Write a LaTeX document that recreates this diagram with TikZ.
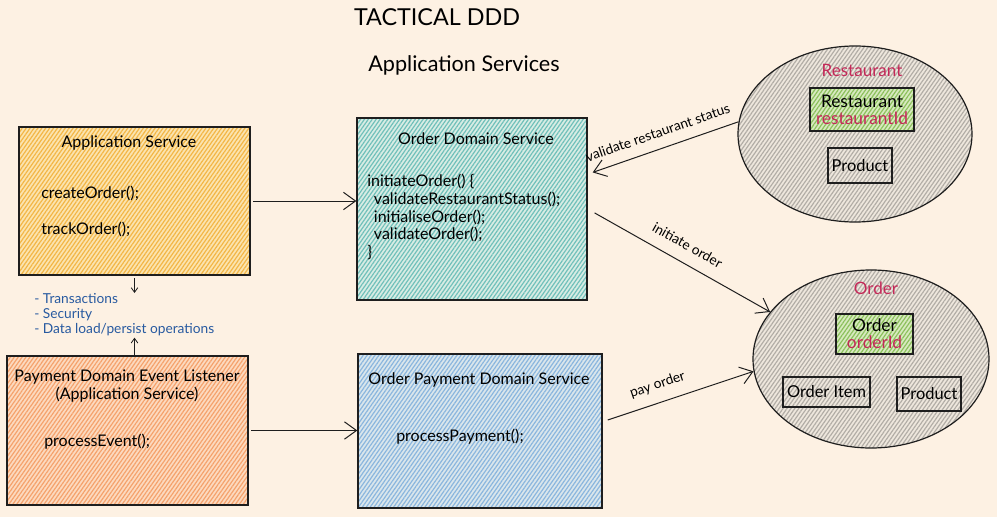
\documentclass[tikz,border=0pt]{standalone}
\usepackage{fontspec}
\setmainfont{Lato}
\usepackage{xcolor}
\usepackage{tikz}
\usetikzlibrary{calc,arrows.meta,positioning,shapes.geometric,patterns.meta}
\definecolor{ddbg}{RGB}{253,241,227}
\definecolor{ddink}{RGB}{30,30,30}
\definecolor{ddappline}{RGB}{243,182,70}
\definecolor{ddappfill}{RGB}{251,228,176}
\definecolor{ddtealline}{RGB}{112,192,186}
\definecolor{ddtealfill}{RGB}{216,236,228}
\definecolor{ddorgline}{RGB}{245,162,108}
\definecolor{ddorgfill}{RGB}{252,218,192}
\definecolor{ddblueline}{RGB}{138,182,222}
\definecolor{ddbluefill}{RGB}{218,230,236}
\definecolor{ddgreyline}{RGB}{178,173,166}
\definecolor{ddgreyfill}{RGB}{238,231,221}
\definecolor{ddgreenline}{RGB}{140,192,92}
\definecolor{ddgreenfill}{RGB}{216,234,192}
\definecolor{ddred}{RGB}{196,40,88}
\definecolor{ddblue}{RGB}{40,90,160}
\tikzset{
  hatch/.style 2 args={preaction={fill=#2},pattern={Lines[angle=55,distance=2.4pt,line width=0.9pt]},pattern color=#1},
  svcbox/.style={draw=ddink,line width=1pt,inner sep=0pt},
  bcbox/.style={ellipse,draw=ddink,line width=0.9pt,inner sep=0pt,hatch={ddgreyline}{ddgreyfill}},
  idbox/.style={draw=ddink,line width=1pt,inner sep=0pt,align=center,hatch={ddgreenline}{ddgreenfill},font=\fontsize{13}{12.75}\selectfont},
  partbox/.style={draw=ddink,line width=0.8pt,inner sep=0pt,hatch={ddgreyline}{ddgreyfill},font=\fontsize{12.3}{14}\selectfont},
  conn/.style={draw=ddink,line width=0.75pt,-{Straight Barb[length=9pt,width=13pt]}},
  tick/.style={draw=ddink,line width=0.6pt,-{Straight Barb[length=3.5pt,width=5pt]}},
  flow/.style={font=\fontsize{10.3}{12}\selectfont,inner sep=1pt}
}

\begin{document}
\begin{tikzpicture}[x=0.75pt,y=-0.75pt,font=\fontsize{12}{13.3}\selectfont,inner sep=0pt]
    \fill[ddbg] (0,0) rectangle (997,517);
    \useasboundingbox (0,0) rectangle (997,517);
    % headings
    \node[font=\fontsize{17.5}{20}\selectfont] (title) at (437,17) {TACTICAL DDD};
    \node[font=\fontsize{16.2}{19}\selectfont] (subtitle) at (464,65) {Application Services};
    % services
    \node[svcbox,hatch={ddappline}{ddappfill},minimum width=173.25pt,minimum height=111pt] (app) at (134.5,201) {};
    \node[svcbox,hatch={ddtealline}{ddtealfill},minimum width=172.5pt,minimum height=136.5pt] (ods) at (472,209) {};
    \node[svcbox,hatch={ddorgline}{ddorgfill},minimum width=180.75pt,minimum height=111.75pt] (pdel) at (127.5,430.5) {};
    \node[svcbox,hatch={ddblueline}{ddbluefill},minimum width=183pt,minimum height=115.5pt] (opds) at (480,431) {};
    \node (appT) at (129,143) {Application Service};
    \node[anchor=west] (appC) at (41,193) {createOrder();};
    \node[anchor=west] (appK) at (41,229) {trackOrder();};
    \node (odsT) at (476,139) {Order Domain Service};
    \node[align=left,anchor=north west] (odsC) at (367,174)
       {initiateOrder() \{\\\hspace*{5pt}validateRestaurantStatus();\\\hspace*{5pt}initialiseOrder();\\\hspace*{5pt}validateOrder();\\\}};
    \node[align=center] (pdelT) at (127,386) {Payment Domain Event Listener\\(Application Service)};
    \node[anchor=west] (pdelC) at (44,442) {processEvent();};
    \node (opdsT) at (479,380) {Order Payment Domain Service};
    \node[anchor=west] (opdsC) at (396,437) {processPayment();};
    \node[text=ddblue,align=left,anchor=north west,font=\fontsize{10.3}{11.4}\selectfont] (notes) at (34,293)
       {- Transactions\\- Security\\- Data load/persist operations};
    % bounded contexts
    \node[bcbox,minimum width=175.5pt,minimum height=132pt] (rest) at (855,134) {};
    \node[text=ddred,font=\fontsize{12.8}{14}\selectfont] (restT) at (862,70) {Restaurant};
    \node[idbox,minimum width=78pt,minimum height=32.25pt] (restId) at (862,109.5) {Restaurant\\\textcolor{ddred}{restaurantId}};
    \node[partbox,minimum width=48pt,minimum height=26.25pt] (restProd) at (860,165.5) {Product};
    \node[bcbox,minimum width=177pt,minimum height=133.5pt] (ord) at (871,359) {};
    \node[text=ddred,font=\fontsize{12.8}{14}\selectfont] (ordT) at (876,288) {Order};
    \node[idbox,minimum width=57.75pt,minimum height=30pt] (ordId) at (874.5,334) {Order\\\textcolor{ddred}{orderId}};
    \node[partbox,minimum width=65.25pt,minimum height=22.5pt] (ordItem) at (826.5,392) {Order Item};
    \node[partbox,minimum width=48pt,minimum height=25.5pt] (ordProd) at (929,394) {Product};
    % calls
    \draw[conn,shorten <=2pt] (app.east) -- (app.east -| ods.west);
    \draw[conn,shorten <=2pt] (pdel.east) -- (pdel.east -| opds.west);
    \draw[conn,shorten >=4pt] (rest.174) -- ($(ods.north east)!0.31!(ods.south east)$)
       node[flow,midway,above=7pt,sloped] {validate restaurant status};
    \draw[conn,shorten <=6pt] (ods.east) -- (ord.155)
       node[flow,midway,above=8pt,sloped] {initiate order};
    \draw[conn,shorten <=4pt] ($(opds.north east)!0.44!(opds.south east)$) -- (ord.186)
       node[flow,pos=0.4,above=7pt,sloped] {pay order};
    \draw[tick,shorten <=2pt] (app.south) -- (app.south |- notes.north);
    \draw[tick,shorten >=1pt] (pdel.north -| app.south) -- (app.south |- notes.south);
\end{tikzpicture}
\end{document}
